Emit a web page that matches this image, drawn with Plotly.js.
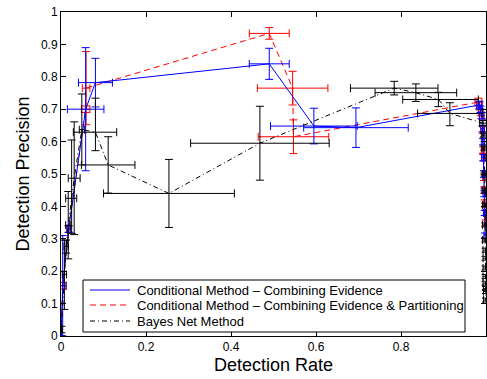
<!DOCTYPE html>
<html>
<head>
<meta charset="utf-8">
<script src="https://cdn.plot.ly/plotly-3.0.1.min.js"></script>
<style>html,body{margin:0;padding:0;background:#fff;}#chart{width:487px;height:379px;}</style>
</head>
<body>
<div id="chart"></div>
<script>
// ---- Data ----
var seriesNames = [
  "Conditional Method \u2013 Combining Evidence",
  "Conditional Method \u2013 Combining Evidence & Partitioning",
  "Bayes Net Method"
];

// Conditional Method – Combining Evidence (blue)
var blueX     = [0.000, 0.004, 0.018, 0.058, 0.081, 0.490, 0.595, 0.694, 0.984, 0.987, 0.990, 0.992, 0.993, 0.994, 0.995, 0.996, 0.997, 0.998];
var blueY     = [0.000, 0.155, 0.330, 0.700, 0.782, 0.840, 0.648, 0.643, 0.713, 0.700, 0.680, 0.640, 0.600, 0.550, 0.500, 0.440, 0.380, 0.310];
var blueXErr  = [0.000, 0.008, 0.004, 0.043, 0.040, 0.047, 0.102, 0.123, 0.006, 0.005, 0.005, 0.004, 0.004, 0.004, 0.003, 0.003, 0.003, 0.003];
var blueYErr  = [0.000, 0.155, 0.010, 0.190, 0.075, 0.048, 0.055, 0.061, 0.012, 0.010, 0.010, 0.010, 0.010, 0.010, 0.010, 0.010, 0.008, 0.008];

// Conditional Method – Combining Evidence & Partitioning (red)
var redX      = [0.000, 0.004, 0.018, 0.058, 0.059, 0.490, 0.545, 0.547, 0.982, 0.985, 0.988, 0.990, 0.992, 0.993, 0.994, 0.995, 0.996, 0.997, 0.998, 0.999];
var redY      = [0.000, 0.155, 0.330, 0.700, 0.765, 0.934, 0.765, 0.615, 0.722, 0.710, 0.690, 0.680, 0.636, 0.574, 0.552, 0.490, 0.450, 0.410, 0.380, 0.350];
var redXErr   = [0.000, 0.008, 0.004, 0.010, 0.009, 0.047, 0.083, 0.083, 0.008, 0.006, 0.005, 0.005, 0.004, 0.004, 0.004, 0.003, 0.003, 0.003, 0.003, 0.002];
var redYErr   = [0.000, 0.010, 0.010, 0.010, 0.113, 0.018, 0.052, 0.052, 0.012, 0.012, 0.010, 0.010, 0.010, 0.010, 0.010, 0.010, 0.010, 0.010, 0.008, 0.008];

// Bayes Net Method (black)
var blackX        = [0.001, 0.008, 0.012, 0.017, 0.025, 0.031, 0.049, 0.081, 0.111, 0.254, 0.468, 0.784, 0.835, 0.888, 0.915, 0.993, 0.995, 0.996, 0.997, 0.997, 0.998, 0.998, 0.998, 0.999, 0.999, 0.999, 0.999, 0.999, 1.000, 1.000, 1.000];
var blackY        = [0.020, 0.190, 0.276, 0.342, 0.425, 0.487, 0.637, 0.629, 0.528, 0.440, 0.595, 0.765, 0.751, 0.730, 0.687, 0.657, 0.620, 0.580, 0.500, 0.450, 0.404, 0.343, 0.296, 0.265, 0.240, 0.210, 0.184, 0.163, 0.147, 0.137, 0.111];
var blackXErrPlus = [0.002, 0.005, 0.005, 0.006, 0.012, 0.014, 0.006, 0.050, 0.063, 0.154, 0.163, 0.103, 0.096, 0.094, 0.076, 0.008, 0.006, 0.006, 0.006, 0.006, 0.006, 0.006, 0.006, 0.006, 0.006, 0.006, 0.006, 0.006, 0.006, 0.006, 0.006];
var blackXErrMinus= [0.001, 0.005, 0.005, 0.006, 0.014, 0.014, 0.006, 0.052, 0.063, 0.154, 0.163, 0.103, 0.096, 0.084, 0.076, 0.008, 0.006, 0.006, 0.006, 0.006, 0.006, 0.006, 0.006, 0.006, 0.006, 0.006, 0.006, 0.006, 0.006, 0.006, 0.006];
var blackYErrPlus = [0.010, 0.106, 0.020, 0.104, 0.180, 0.174, 0.110, 0.105, 0.087, 0.105, 0.114, 0.021, 0.027, 0.022, 0.033, 0.008, 0.006, 0.006, 0.006, 0.006, 0.006, 0.006, 0.006, 0.006, 0.006, 0.006, 0.006, 0.006, 0.006, 0.006, 0.006];
var blackYErrMinus= [0.010, 0.108, 0.020, 0.104, 0.108, 0.174, 0.109, 0.057, 0.087, 0.105, 0.114, 0.021, 0.027, 0.022, 0.038, 0.008, 0.006, 0.006, 0.006, 0.006, 0.006, 0.006, 0.006, 0.006, 0.006, 0.006, 0.006, 0.006, 0.006, 0.006, 0.006];

var xTickVals = [0, 0.2, 0.4, 0.6, 0.8, 1];
var xTickText = ["0", "0.2", "0.4", "0.6", "0.8", "1"];
var yTickVals = [0, 0.1, 0.2, 0.3, 0.4, 0.5, 0.6, 0.7, 0.8, 0.9, 1];
var yTickText = ["0", "0.1", "0.2", "0.3", "0.4", "0.5", "0.6", "0.7", "0.8", "0.9", "1"];

var xTitle = "Detection Rate";
var yTitle = "Detection Precision";

// ---- Styles ----
var FONT = "'Liberation Sans', Arial, Helvetica, sans-serif";
var BLUE = "#0000ff", RED = "#ff0000", BLACK = "#000000";
var DASH_RED = "6px,4px";
var DASH_BLACK = "5px,3px,1px,3px";

// plot-area geometry in pixels
var M = {l: 61, r: 1, t: 12, b: 43};
var W = 487, H = 379;
var PW = W - M.l - M.r, PH = H - M.t - M.b;
function px2x(px) { return (px - M.l) / PW; }
function px2y(py) { return (H - M.b - py) / PH; }

function errSym(arr, color) {
  return {type: "data", array: arr, visible: true, color: color, thickness: 1, width: 4};
}
function errAsym(plus, minus, color) {
  return {type: "data", symmetric: false, array: plus, arrayminus: minus, visible: true, color: color, thickness: 1, width: 4};
}

var traces = [
  {
    x: redX, y: redY, name: seriesNames[1], type: "scatter", mode: "lines",
    line: {color: RED, width: 1, dash: DASH_RED},
    error_x: errSym(redXErr, RED), error_y: errSym(redYErr, RED),
    showlegend: false
  },
  {
    x: blueX, y: blueY, name: seriesNames[0], type: "scatter", mode: "lines",
    line: {color: BLUE, width: 1},
    error_x: errSym(blueXErr, BLUE), error_y: errSym(blueYErr, BLUE),
    showlegend: false
  },
  {
    x: blackX, y: blackY, name: seriesNames[2], type: "scatter", mode: "lines",
    line: {color: BLACK, width: 1, dash: DASH_BLACK},
    error_x: errAsym(blackXErrPlus, blackXErrMinus, BLACK),
    error_y: errAsym(blackYErrPlus, blackYErrMinus, BLACK),
    showlegend: false
  }
];

// ---- Legend box (MATLAB-style, drawn with shapes + annotations) ----
var legBox = {x0: 83, x1: 465, y0: 280, y1: 332};
var legRows = [290, 305, 321];
var legColors = [BLUE, RED, BLACK];
var legDashes = ["solid", DASH_RED, DASH_BLACK];
var legLineX = [90, 130], legTextX = 135;

var shapes = [{
  type: "rect", xref: "paper", yref: "paper", layer: "above",
  x0: px2x(legBox.x0), x1: px2x(legBox.x1), y0: px2y(legBox.y1), y1: px2y(legBox.y0),
  line: {color: BLACK, width: 1}, fillcolor: "#ffffff"
}];
var annotations = [];
for (var i = 0; i < seriesNames.length; i++) {
  shapes.push({
    type: "line", xref: "paper", yref: "paper", layer: "above",
    x0: px2x(legLineX[0]), x1: px2x(legLineX[1]), y0: px2y(legRows[i]), y1: px2y(legRows[i]),
    line: {color: legColors[i], width: 1.2, dash: legDashes[i]}
  });
  annotations.push({
    xref: "paper", yref: "paper", x: px2x(legTextX), y: px2y(legRows[i]),
    xanchor: "left", yanchor: "middle", showarrow: false,
    text: seriesNames[i], font: {family: FONT, size: 13, color: BLACK}
  });
}

var axisCommon = {
  range: [0, 1], showgrid: false, zeroline: false,
  showline: true, linecolor: BLACK, linewidth: 1, mirror: "ticks",
  ticks: "inside", ticklen: 5, tickwidth: 1, tickcolor: BLACK,
  tickfont: {family: FONT, size: 12, color: BLACK},
  tickmode: "array", automargin: false
};

var layout = {
  width: W, height: H,
  margin: M,
  paper_bgcolor: "#ffffff", plot_bgcolor: "#ffffff",
  font: {family: FONT, color: BLACK},
  xaxis: Object.assign({}, axisCommon, {
    tickvals: xTickVals, ticktext: xTickText,
    title: {text: xTitle, font: {family: FONT, size: 18, color: BLACK}, standoff: 4}
  }),
  yaxis: Object.assign({}, axisCommon, {
    tickvals: yTickVals, ticktext: yTickText,
    title: {text: yTitle, font: {family: FONT, size: 18, color: BLACK}, standoff: 6}
  }),
  showlegend: false,
  shapes: shapes,
  annotations: annotations
};

Plotly.newPlot("chart", traces, layout, {displayModeBar: false, staticPlot: true});
</script>
</body>
</html>
